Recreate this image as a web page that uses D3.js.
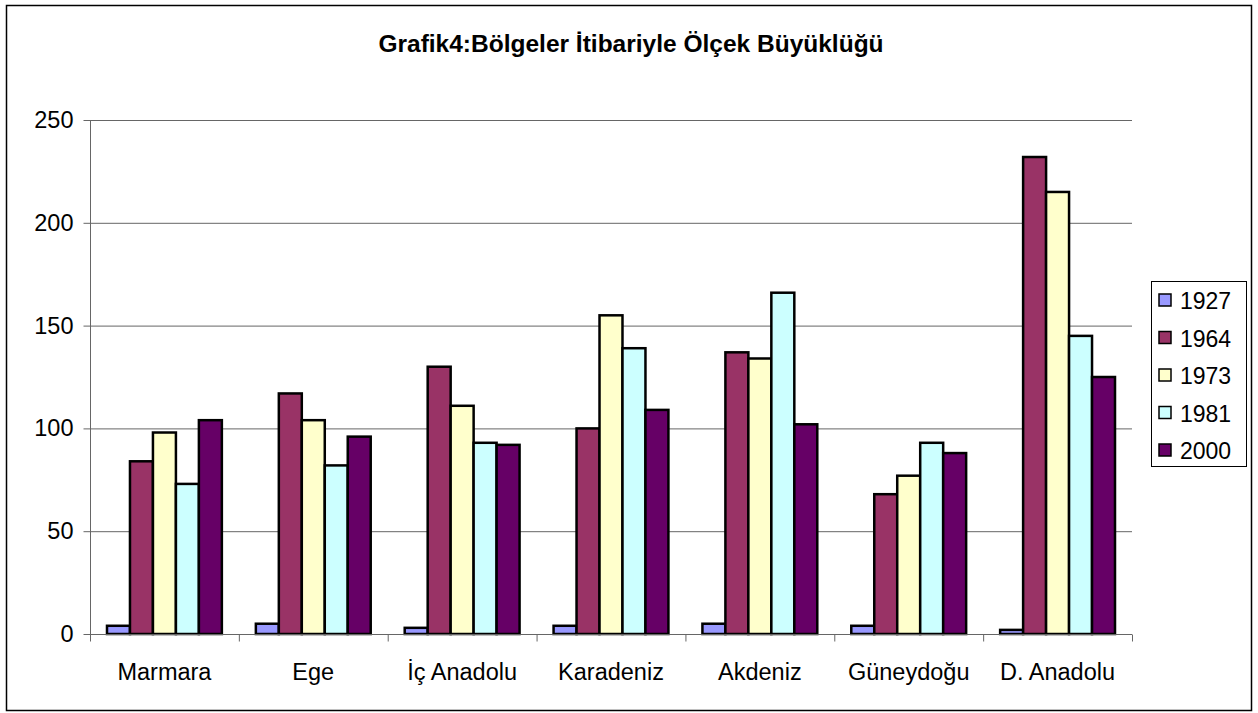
<!DOCTYPE html>
<html lang="tr">
<head>
<meta charset="utf-8">
<script src="https://d3js.org/d3.v7.min.js"></script>
<style>
    body { margin: 0; background: #fff; }
    text { font-family: Arial, "Liberation Sans", sans-serif; fill: #000; }
</style>
</head>
<body>
<svg id="chart" width="1258" height="713"></svg>
<script>
    // data
    var regions = ["Marmara", "Ege", "İç Anadolu", "Karadeniz", "Akdeniz", "Güneydoğu", "D. Anadolu"];
    var years = ["1927", "1964", "1973", "1981", "2000"];
    var v1927 = [4, 5, 3, 4, 5, 4, 2];
    var v1964 = [84, 117, 130, 100, 137, 68, 232];
    var v1973 = [98, 104, 111, 155, 134, 77, 215];
    var v1981 = [73, 82, 93, 139, 166, 93, 145];
    var v2000 = [104, 96, 92, 109, 102, 88, 125];
    var yTicks = [0, 50, 100, 150, 200, 250];
    var colors = ["#9999FF", "#993366", "#FFFFCC", "#CCFFFF", "#660066"];

    var series = [v1927, v1964, v1973, v1981, v2000];

    var svg = d3.select("#chart");
    var margin = {top: 120, right: 126, bottom: 79, left: 90};
    var width = 1258, height = 713;

    // outer frame
    svg.append("rect")
        .attr("x", 6.5).attr("y", 5.5)
        .attr("width", 1245).attr("height", 705)
        .attr("fill", "none")
        .attr("stroke", "#000")
        .attr("stroke-width", 1.5);

    svg.append("text")
        .attr("x", 631)
        .attr("y", 52)
        .attr("text-anchor", "middle")
        .style("font-weight", "bold")
        .style("font-size", "24.5px")
        .text("Grafik4:Bölgeler İtibariyle Ölçek Büyüklüğü");

    var x0 = d3.scaleBand()
        .domain(regions)
        .range([margin.left, width - margin.right]);

    var x1 = d3.scaleBand()
        .domain(years)
        .range([0, x0.bandwidth()])
        .paddingOuter(0.74);

    var y = d3.scaleLinear()
        .domain([0, 250])
        .range([height - margin.bottom, margin.top]);

    // gridlines
    svg.append("g")
        .selectAll("line")
        .data(yTicks.slice(1))
        .join("line")
        .attr("x1", margin.left)
        .attr("x2", width - margin.right)
        .attr("y1", d => y(d) + 0.5)
        .attr("y2", d => y(d) + 0.5)
        .attr("stroke", "#666")
        .attr("stroke-width", 1);

    // bars
    var groups = svg.append("g")
        .selectAll("g")
        .data(regions)
        .join("g")
        .attr("transform", d => "translate(" + x0(d) + ",0)");

    groups.selectAll("rect")
        .data((d, i) => years.map((yr, j) => ({year: yr, value: series[j][i], j: j})))
        .join("rect")
        .attr("x", d => x1(d.year))
        .attr("y", d => y(d.value))
        .attr("width", x1.bandwidth())
        .attr("height", d => y(0) - y(d.value))
        .attr("fill", d => colors[d.j])
        .attr("stroke", "#000")
        .attr("stroke-width", 2.5);

    // y axis
    var yAxis = svg.append("g")
        .attr("transform", "translate(" + (margin.left + 0.5) + ",0)")
        .call(d3.axisLeft(y).tickValues(yTicks).tickSize(7).tickPadding(10));
    yAxis.selectAll("path, line").attr("stroke", "#666");
    yAxis.select(".domain").attr("d", "M0," + margin.top + "V" + (height - margin.bottom));
    yAxis.selectAll("text")
        .style("font-size", "23.5px")
        .style("font-family", "Arial, 'Liberation Sans', sans-serif");

    // x axis with ticks at category boundaries
    var xAxisG = svg.append("g")
        .attr("transform", "translate(0," + (y(0) + 0.5) + ")");
    xAxisG.append("line")
        .attr("x1", margin.left).attr("x2", width - margin.right)
        .attr("stroke", "#666");
    xAxisG.selectAll(".tk")
        .data(regions.concat(["end"]))
        .join("line")
        .attr("class", "tk")
        .attr("x1", (d, i) => margin.left + i * x0.step() + 0.5)
        .attr("x2", (d, i) => margin.left + i * x0.step() + 0.5)
        .attr("y1", 0).attr("y2", 7)
        .attr("stroke", "#666");
    xAxisG.selectAll(".lbl")
        .data(regions)
        .join("text")
        .attr("class", "lbl")
        .attr("x", d => x0(d) + x0.bandwidth() / 2)
        .attr("y", 45)
        .attr("text-anchor", "middle")
        .style("font-size", "23.5px")
        .text(d => d);

    // legend
    var legend = svg.append("g");
    legend.append("rect")
        .attr("x", 1151.5).attr("y", 281.5)
        .attr("width", 95).attr("height", 185)
        .attr("fill", "#fff")
        .attr("stroke", "#000")
        .attr("stroke-width", 1);

    var item = legend.selectAll(".item")
        .data(years)
        .join("g")
        .attr("class", "item")
        .attr("transform", (d, i) => "translate(1159," + (300 + i * 37.5) + ")");
    item.append("rect")
        .attr("x", 0).attr("y", -6)
        .attr("width", 12).attr("height", 12)
        .attr("fill", (d, i) => colors[i])
        .attr("stroke", "#000")
        .attr("stroke-width", 1.5);
    item.append("text")
        .attr("x", 21)
        .attr("y", 9)
        .style("font-size", "23px")
        .text(d => d);
</script>
</body>
</html>
